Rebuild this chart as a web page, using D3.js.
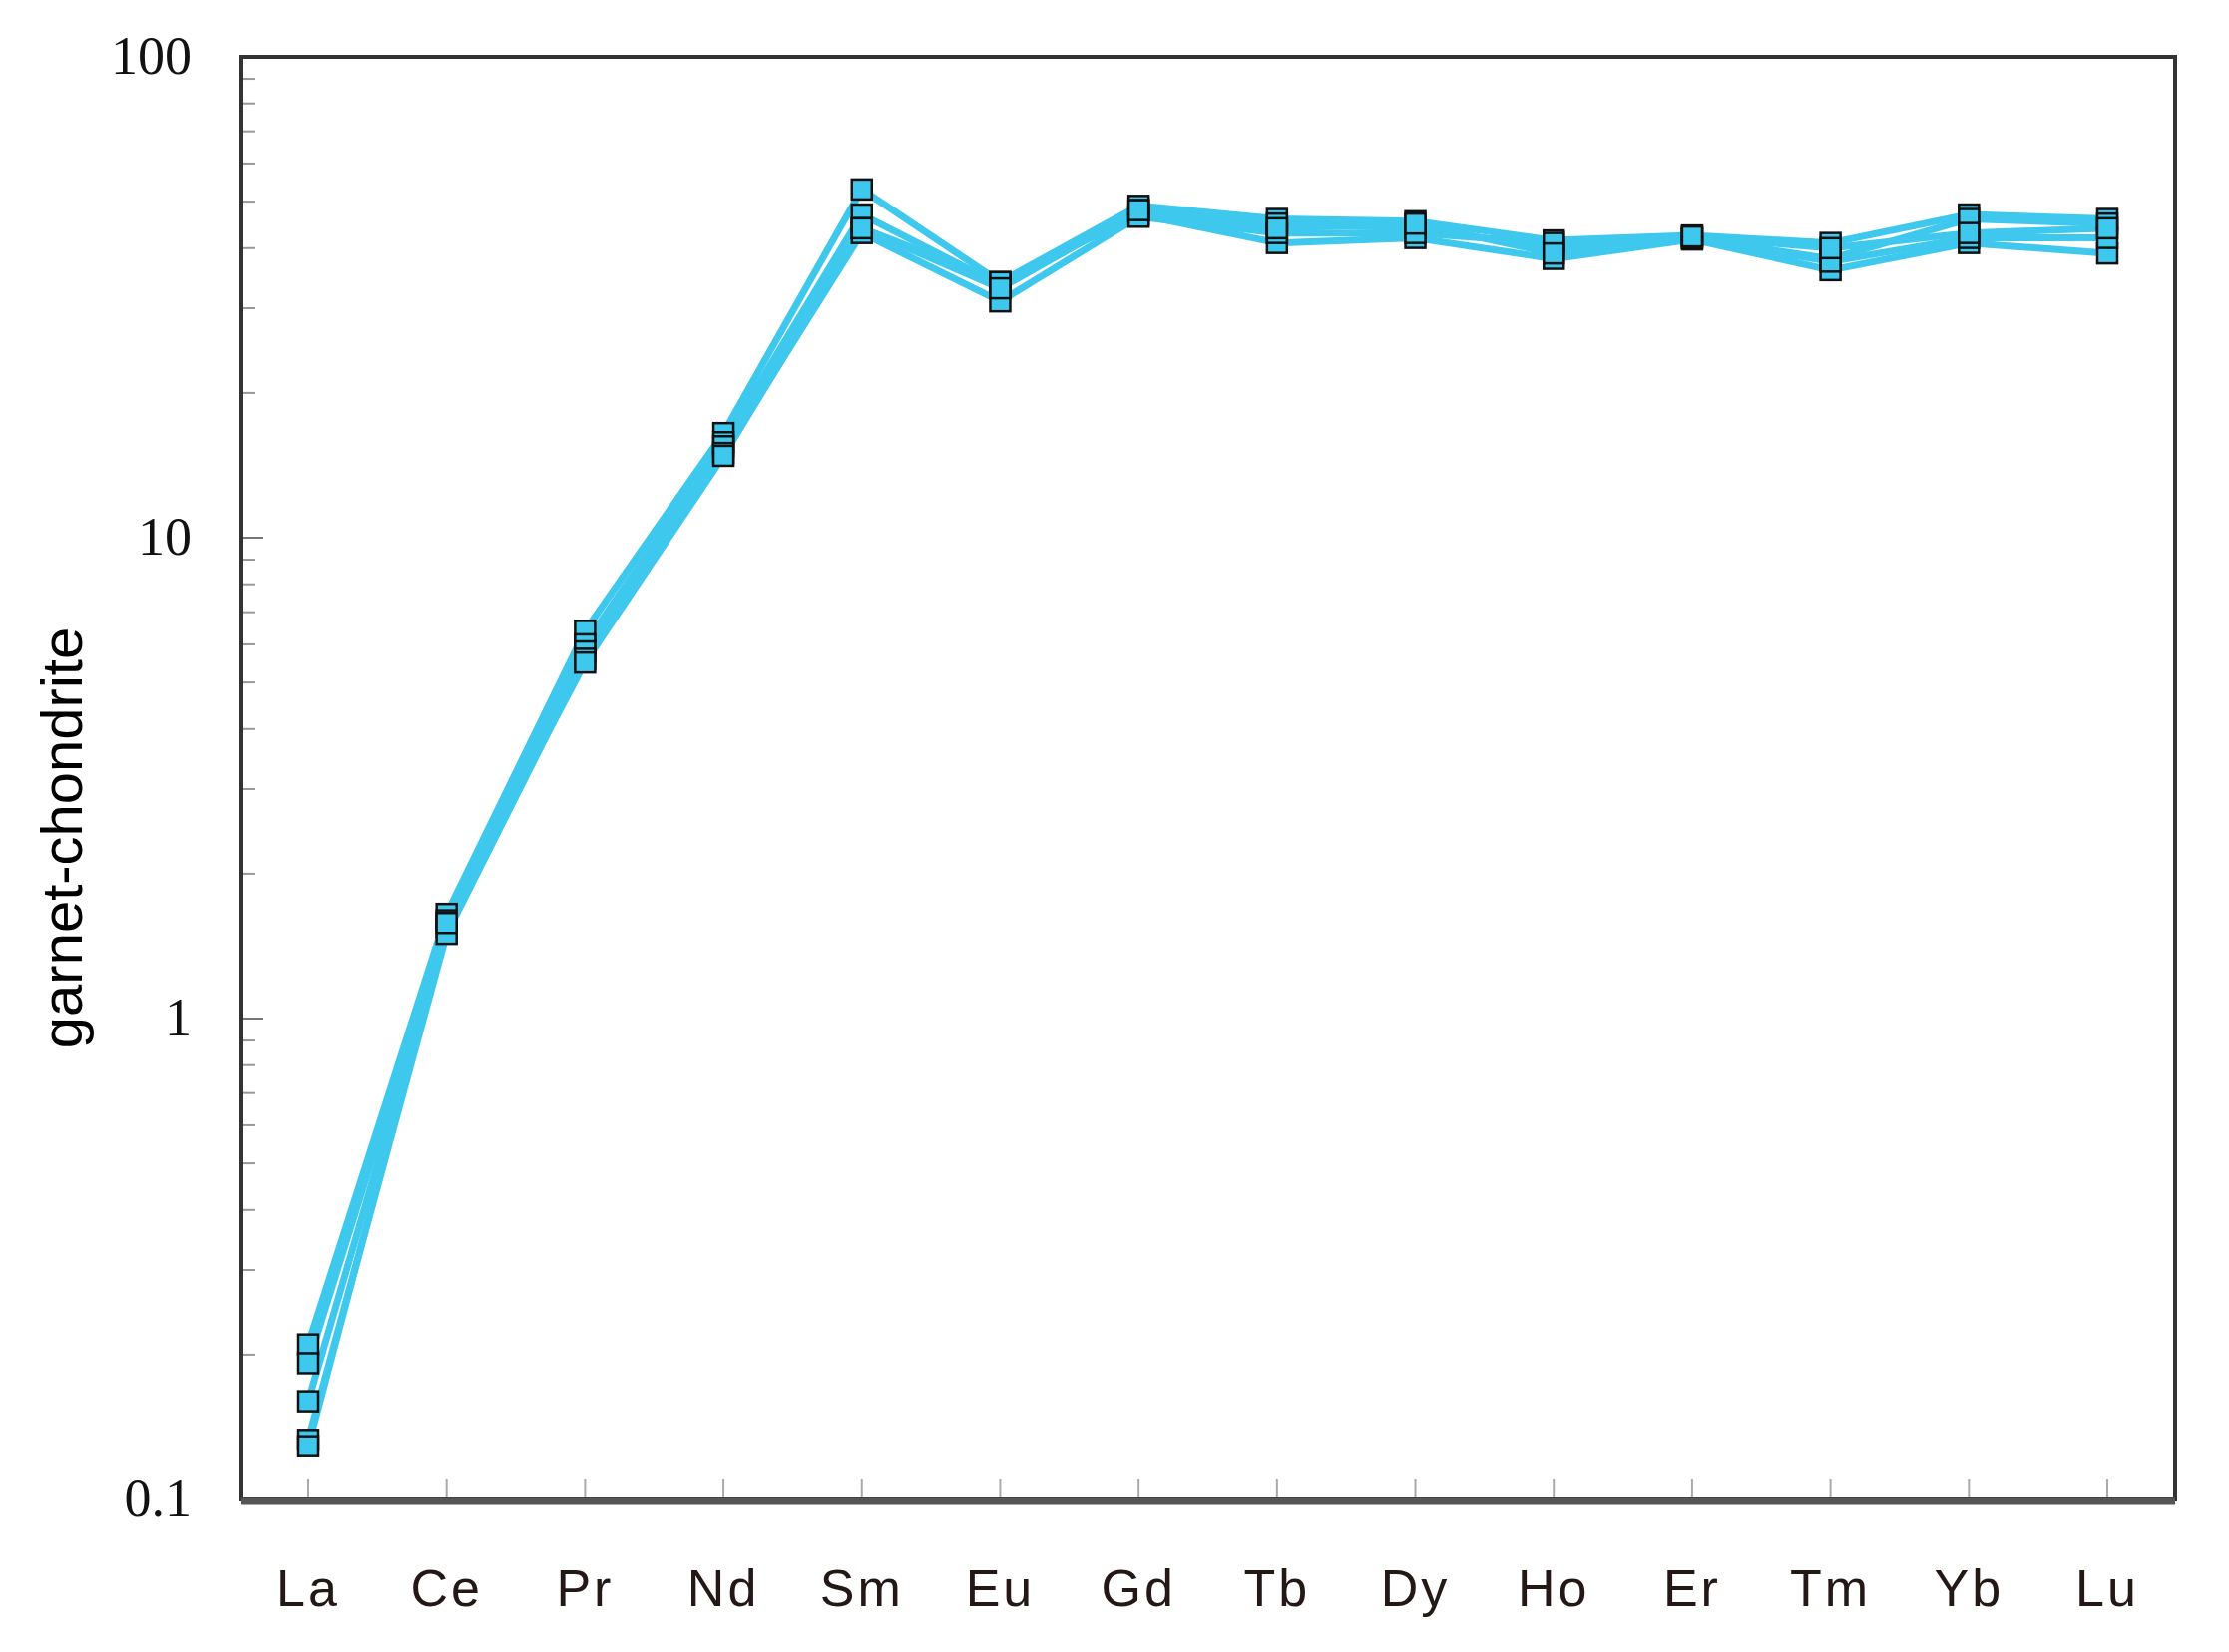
<!DOCTYPE html>
<html lang="en">
<head>
  <meta charset="utf-8" />
  <title>garnet-chondrite</title>
  <style>
    html, body { margin: 0; background: #fff; }
    svg { display: block; }
  </style>
</head>
<body>
  <div id="chart"></div>
  <script src="https://cdnjs.cloudflare.com/ajax/libs/d3/7.8.5/d3.min.js"></script>
  <script>
    const elements = ['La','Ce','Pr','Nd','Sm','Eu','Gd','Tb','Dy','Ho','Er','Tm','Yb','Lu']
    const yTicks = [0.1, 1, 10, 100]
    // one array per garnet analysis, chondrite-normalised
    const sample1 = [0.21, 1.65, 6.4, 16.5, 53, 34, 49, 46, 45.5, 41.5, 42.5, 41, 47, 46]
    const sample2 = [0.192, 1.6, 6.0, 15.8, 47, 33.5, 48, 45, 44, 40, 42, 38, 46, 45]
    const sample3 = [0.16, 1.55, 5.8, 15.5, 44, 34, 47, 41, 42, 38, 41.7, 36, 41, 39]
    const sample4 = [0.133, 1.5, 5.6, 15, 43, 31, 46.5, 43, 43, 41, 42, 37.5, 42, 42]
    const sample5 = [0.129, 1.58, 5.5, 14.8, 44, 33, 48, 44, 45, 39, 42.3, 40, 43, 44]
    const samples = [sample1, sample2, sample3, sample4, sample5]

    const W = 2234, H = 1656
    const mLeft = 242, mRight = 2180, mTop = 57, mBottom = 1503
    const blue = '#3ec8ee'

    const svg = d3.select('#chart').append('svg').attr('width', W).attr('height', H)

    const x = d3.scalePoint().domain(elements).range([309, 2112])
    const y = d3.scaleLog().domain([0.1, 100]).range([mBottom, mTop])

    // minor ticks on the left axis
    const minor = []
    for (let d = 0.1; d < 99; d *= 10) for (let k = 2; k <= 9; k++) minor.push(d * k)
    svg.append('g').selectAll('line').data(minor).join('line')
      .attr('x1', mLeft).attr('x2', mLeft + 14)
      .attr('y1', d => y(d)).attr('y2', d => y(d))
      .attr('stroke', '#999').attr('stroke-width', 2)
    svg.append('g').selectAll('line').data(yTicks).join('line')
      .attr('x1', mLeft).attr('x2', mLeft + 22)
      .attr('y1', d => y(d)).attr('y2', d => y(d))
      .attr('stroke', '#777').attr('stroke-width', 2)

    // x ticks pointing up from the bottom axis
    svg.append('g').selectAll('line').data(elements).join('line')
      .attr('x1', d => x(d)).attr('x2', d => x(d))
      .attr('y1', mBottom).attr('y2', mBottom - 20)
      .attr('stroke', '#aaa').attr('stroke-width', 2)

    // frame
    svg.append('rect').attr('x', mLeft).attr('y', mTop)
      .attr('width', mRight - mLeft).attr('height', mBottom - mTop)
      .attr('fill', 'none').attr('stroke', '#333').attr('stroke-width', 4)
    svg.append('line').attr('x1', mLeft).attr('x2', mRight)
      .attr('y1', mBottom + 2).attr('y2', mBottom + 2)
      .attr('stroke', '#555').attr('stroke-width', 7)

    const line = d3.line().x((d, i) => x(elements[i])).y(d => y(d))
    svg.append('g').selectAll('path').data(samples).join('path')
      .attr('d', line).attr('fill', 'none')
      .attr('stroke', blue).attr('stroke-width', 7).attr('stroke-linejoin', 'round')

    const pts = samples.flatMap(s => s.map((v, i) => ({ e: elements[i], v })))
    svg.append('g').selectAll('rect').data(pts).join('rect')
      .attr('x', d => x(d.e) - 10).attr('y', d => y(d.v) - 10)
      .attr('width', 20).attr('height', 20)
      .attr('fill', blue).attr('stroke', '#111').attr('stroke-width', 2.5)

    // y tick labels
    svg.append('g').selectAll('text').data(yTicks).join('text')
      .attr('x', mLeft - 50).attr('y', d => y(d))
      .attr('dy', '0.32em').attr('text-anchor', 'end')
      .attr('font-family', 'Liberation Serif, serif').attr('font-size', 54)
      .attr('fill', '#111').text(d => d)

    // x labels
    svg.append('g').selectAll('text').data(elements).join('text')
      .attr('x', d => x(d)).attr('y', 1610).attr('text-anchor', 'middle')
      .attr('font-family', 'Liberation Sans, Arial, sans-serif').attr('font-size', 52)
      .attr('letter-spacing', 3).attr('fill', '#231815').text(d => d)

    svg.append('text')
      .attr('transform', `translate(82, ${(mTop + mBottom) / 2 + 60}) rotate(-90)`)
      .attr('text-anchor', 'middle')
      .attr('font-family', 'Liberation Sans, Arial, sans-serif').attr('font-size', 58)
      .attr('fill', '#000').text('garnet-chondrite')
  </script>
</body>
</html>
